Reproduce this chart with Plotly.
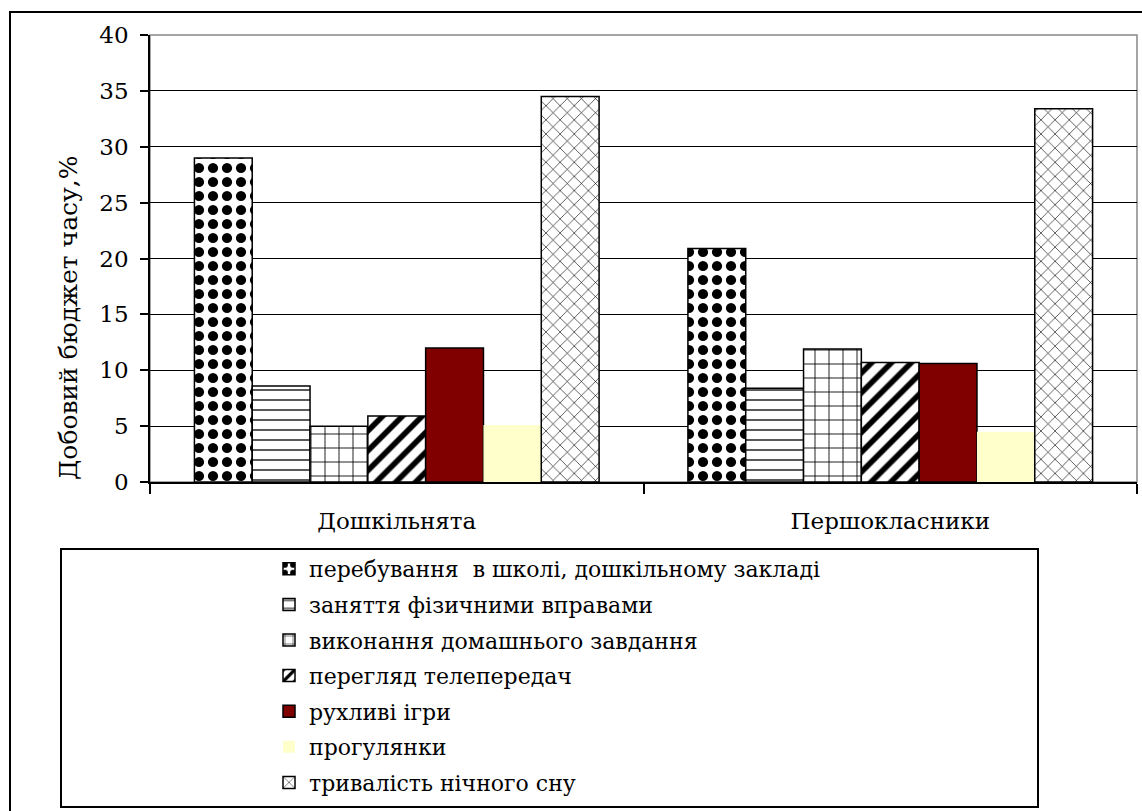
import plotly.graph_objects as go

categories = ["Дошкільнята", "Першокласники"]
series_names = [
    "перебування  в школі, дошкільному закладі",
    "заняття фізичними вправами",
    "виконання домашнього завдання",
    "перегляд телепередач",
    "рухливі ігри",
    "прогулянки",
    "тривалість нічного сну",
]
school = [29.0, 20.9]
exercise = [8.6, 8.4]
homework = [5.0, 11.9]
tv = [5.9, 10.7]
games = [12.0, 10.6]
walks = [5.1, 4.5]
sleep = [34.5, 33.4]
y_ticks = [0, 5, 10, 15, 20, 25, 30, 35, 40]
y_title = "Добовий бюджет часу,%"

series_values = [school, exercise, homework, tv, games, walks, sleep]
styles = [
    dict(color="white", pattern=dict(shape=".", fgcolor="black", bgcolor="white", size=14, solidity=0.42, fgopacity=1), lw=1.5),
    dict(color="white", pattern=dict(shape="-", fgcolor="black", bgcolor="white", size=10, solidity=0.13, fgopacity=1), lw=1.5),
    dict(color="white", pattern=dict(shape="+", fgcolor="black", bgcolor="white", size=14, solidity=0.12, fgopacity=1), lw=1.5),
    dict(color="white", pattern=dict(shape="/", fgcolor="black", bgcolor="white", size=14, solidity=0.4, fgopacity=1), lw=1.5),
    dict(color="#800000", pattern=None, lw=1.5),
    dict(color="#FFFFCC", pattern=None, lw=0),
    dict(color="white", pattern=dict(shape="x", fgcolor="black", bgcolor="white", size=10, solidity=0.12, fgopacity=1), lw=1.5),
]

FONT = "DejaVu Serif"

fig = go.Figure()
for i, (name, vals, st) in enumerate(zip(series_names, series_values, styles)):
    marker = dict(color=st["color"], opacity=1, line=dict(color="black", width=st["lw"]))
    if st["pattern"] is not None:
        marker["pattern"] = st["pattern"]
    fig.add_trace(go.Bar(name=name, x=categories, y=vals, marker=marker, legendgroup=f"g{i}"))

W, H = 1142, 811
L, R, T, B = 150, 5, 35, 329
pw, ph = W - L - R, H - T - B

def px(x):
    return (x - L) / pw

def py(y):
    return (H - B - y) / ph

fig.update_layout(
    width=W, height=H,
    margin=dict(l=L, r=R, t=T, b=B, pad=0, autoexpand=False),
    paper_bgcolor="white", plot_bgcolor="white",
    barmode="group", bargap=0.18, bargroupgap=0,
    font=dict(family=FONT, size=23, color="black"),
    showlegend=True,
    legend=dict(
        x=px(269), y=py(548), xanchor="left", yanchor="top",
        bgcolor="rgba(0,0,0,0)", borderwidth=0,
        font=dict(family=FONT, size=22, color="black"),
        itemwidth=30, tracegroupgap=4,
    ),
    xaxis=dict(
        type="category", showline=True, linecolor="black", linewidth=1.5,
        ticks="outside", tickson="boundaries", ticklen=10, tickcolor="black", tickwidth=1.5,
        showgrid=False, tickfont=dict(family=FONT, size=23, color="black"),
        ticklabelstandoff=18,
    ),
    yaxis=dict(
        range=[0, 40], tickvals=y_ticks, showline=True, linecolor="black", linewidth=1.5,
        ticks="outside", ticklen=8, tickcolor="black", tickwidth=1.5,
        showgrid=True, gridcolor="black", gridwidth=1.2, zeroline=False,
        tickfont=dict(family=FONT, size=23, color="black"),
        ticklabelstandoff=7,
    ),
    shapes=[
        dict(type="rect", xref="paper", yref="paper", x0=0, x1=1, y0=0, y1=1,
             line=dict(color="#888888", width=1.5), layer="below"),
        dict(type="rect", xref="paper", yref="paper", x0=px(61), x1=px(1038), y0=py(549), y1=py(807),
             line=dict(color="black", width=2), fillcolor="rgba(0,0,0,0)"),
        dict(type="rect", xref="paper", yref="paper", x0=px(10), x1=px(1160), y0=py(12), y1=py(830),
             line=dict(color="black", width=2), fillcolor="rgba(0,0,0,0)"),
    ],
    annotations=[
        dict(text=y_title, xref="paper", yref="paper", x=px(68), y=py(318),
             xanchor="center", yanchor="middle", textangle=-90, showarrow=False,
             font=dict(family=FONT, size=25, color="black")),
    ],
)

fig.write_html("out.html")
